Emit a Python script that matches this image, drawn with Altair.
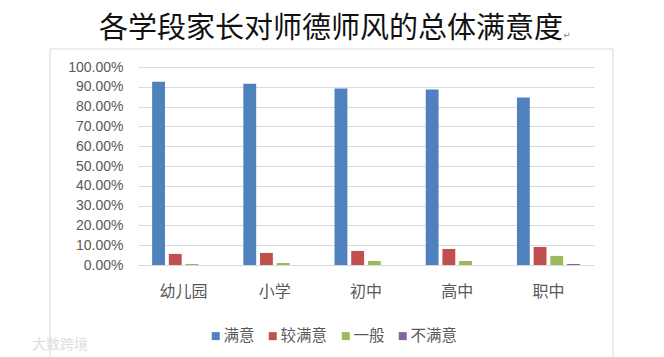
import altair as alt
import pandas as pd

categories = ["幼儿园", "小学", "初中", "高中", "职中"]
series = ["满意", "较满意", "一般", "不满意"]
colors = ["#4F81BD", "#C0504D", "#9BBB59", "#8064A2"]
satisfied = [0.926, 0.916, 0.891, 0.886, 0.846]
fairly = [0.056, 0.061, 0.071, 0.081, 0.091]
average = [0.005, 0.010, 0.020, 0.020, 0.046]
unsatisfied = [0.0, 0.0, 0.0, 0.0, 0.005]
title_text = "各学段家长对师德师风的总体满意度"
watermark = "大数跨境"
cjk = "Noto Sans CJK SC"

rows = []
for name, vals in zip(series, [satisfied, fairly, average, unsatisfied]):
    for c, v in zip(categories, vals):
        rows.append({"cat": c, "series": name, "v": v})
df = pd.DataFrame(rows)

box = alt.Chart(pd.DataFrame({"a": [0]})).mark_rect(
    fillOpacity=0, stroke="#d9d9d9", strokeWidth=1
).encode(x=alt.value(-88), x2=alt.value(475), y=alt.value(-18), y2=alt.value(300))

bars = alt.Chart(df).mark_bar(cornerRadius=0).encode(
    x=alt.X("cat:N", sort=categories, title=None,
            scale=alt.Scale(paddingInner=0.31, paddingOuter=0.155),
            axis=alt.Axis(labelAngle=0, labelFont=cjk, labelFontSize=16, labelColor="#595959",
                          domainColor="#d9d9d9", ticks=False, labelPadding=18)),
    xOffset=alt.XOffset("series:N", sort=series, scale=alt.Scale(paddingInner=0.23, paddingOuter=0)),
    y=alt.Y("v:Q", title=None, scale=alt.Scale(domain=[0, 1]),
            axis=alt.Axis(format=".2%", values=[i / 10 for i in range(11)], labelFont="Liberation Sans",
                          labelFontSize=14, labelColor="#595959", gridColor="#d9d9d9", domain=False,
                          ticks=False, labelPadding=15)),
    color=alt.Color("series:N", sort=series, scale=alt.Scale(domain=series, range=colors),
                    legend=alt.Legend(title=None, orient="none", legendX=70, legendY=261, direction="horizontal",
                                      symbolType="square", symbolSize=64, symbolStrokeWidth=0,
                                      labelFont=cjk, labelFontSize=15.5, labelColor="#595959",
                                      columnPadding=10, labelOffset=0, columns=4)),
)

title = alt.Chart(pd.DataFrame({"t": [title_text]})).mark_text(
    font=cjk, fontSize=29, color="#111111", align="center", baseline="middle"
).encode(text="t:N", x=alt.value(193), y=alt.value(-38))

pilcrow = alt.Chart(pd.DataFrame({"t": ["↵"]})).mark_text(
    font="DejaVu Sans", fontSize=9, color="#888888", align="center", baseline="middle"
).encode(text="t:N", x=alt.value(429), y=alt.value(-32))

wm = alt.Chart(pd.DataFrame({"t": [watermark]})).mark_text(
    font=cjk, fontSize=14, color="#dddddd", align="left", baseline="middle"
).encode(text="t:N", x=alt.value(-106), y=alt.value(278))

chart = alt.layer(box, bars, title, pilcrow, wm).properties(
    width=456, height=198,
    padding={"left": 130, "top": 59, "right": 62, "bottom": 92},
    autosize=alt.AutoSizeParams(type="none"),
    background="white",
).configure_view(stroke=None)

chart.save("out.html", embed_options={"renderer": "svg", "actions": False})
